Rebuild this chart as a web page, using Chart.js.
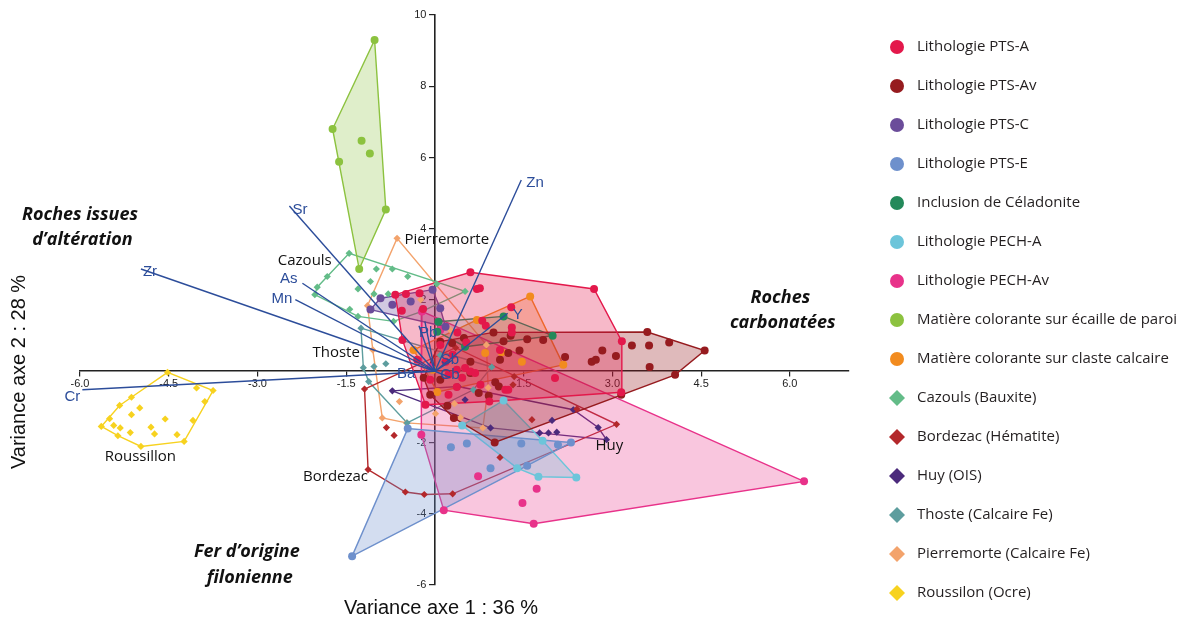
<!DOCTYPE html>
<html>
<head>
<meta charset="utf-8">
<title>ACP - lithologies et matières colorantes</title>
<script src="https://cdn.jsdelivr.net/npm/chart.js@4.4.0/dist/chart.umd.min.js"></script>
<style>
  html, body { margin: 0; padding: 0; background: #fff; }
</style>
</head>
<body>
<canvas id="acpChart" width="1183" height="622"></canvas>
<script>
// axis ticks
const xTicks = [-6, -4.5, -3, -1.5, 0, 1.5, 3, 4.5, 6];
const yTicks = [-6, -4, -2, 0, 2, 4, 6, 8, 10];

// groups, in legend order
const groupNames = [
  'Lithologie PTS-A', 'Lithologie PTS-Av', 'Lithologie PTS-C', 'Lithologie PTS-E',
  'Inclusion de Céladonite', 'Lithologie PECH-A', 'Lithologie PECH-Av',
  'Matière colorante sur écaille de paroi', 'Matière colorante sur claste calcaire',
  'Cazouls (Bauxite)', 'Bordezac (Hématite)', 'Huy (OIS)', 'Thoste (Calcaire Fe)',
  'Pierremorte (Calcaire Fe)', 'Roussilon (Ocre)'
];

// sample scores (axe 1, axe 2)
const ptsA = [[-0.67,2.15],[0.60,2.78],[2.69,2.31],[3.16,0.84],[3.15,-0.59],[-0.16,-0.94],[-0.55,0.88],
  [-0.56,1.70],[-0.49,2.17],[-0.26,2.19],[-0.20,1.75],[0.71,2.31],[0.76,2.33],[1.29,1.80],[0.80,1.42],
  [0.86,1.28],[1.30,1.23],[1.30,1.09],[0.38,1.09],[0.53,0.81],[0.51,0.09],[0.37,0.04],[0.60,-0.01],
  [0.68,-0.05],[1.19,-0.52],[1.24,-0.52],[2.03,-0.19],[0.92,-0.85],[0.37,-0.44],[0.23,-0.10],
  [0.18,0.27],[0.30,0.46],[0.46,-0.18],[0.77,-0.38],[1.10,0.60],[0.23,-0.66],[-0.08,-0.24],
  [0.09,0.74],[-0.30,0.32]];
const ptsAv = [[0.09,0.83],[3.59,1.10],[3.96,0.81],[4.56,0.58],[4.06,-0.10],[3.63,0.12],[3.62,0.72],
  [3.33,0.72],[2.83,0.58],[2.65,0.27],[2.72,0.32],[3.06,0.43],[2.20,0.40],[1.83,0.88],[1.56,0.90],
  [1.43,0.58],[1.16,0.84],[0.99,1.09],[1.28,1.00],[1.24,0.51],[1.10,0.32],[1.02,-0.31],[1.08,-0.43],
  [0.74,-0.61],[0.91,-0.69],[0.32,-1.31],[1.01,-2.00],[0.21,-0.97],[0.60,-0.05],[0.29,0.79],
  [0.49,0.93],[0.60,0.27],[3.15,-0.66],[-0.08,-0.66],[0.09,-0.24],[-0.19,-0.18]];
const ptsC = [[-1.09,1.73],[-0.92,2.05],[-0.41,1.96],[-0.04,2.29],[0.09,1.77],[0.18,1.25],[-0.72,1.87]];
const ptsE = [[-1.40,-5.19],[-0.46,-1.61],[0.27,-2.13],[0.54,-2.03],[0.94,-2.72],[1.46,-2.03],
  [2.08,-2.06],[2.30,-2.00],[1.56,-2.65]];
const ptsCeladonite = [[0.06,1.39],[1.16,1.54],[1.99,1.00],[0.51,0.69],[0.04,1.11]];
const ptsPechA = [[0.46,-1.52],[1.16,-0.82],[2.39,-2.98],[1.75,-2.96],[1.39,-2.72],[1.82,-1.95]];
const ptsPechAv = [[-0.22,1.68],[-0.23,-1.78],[0.15,-3.90],[1.67,-4.28],[6.24,-3.09],[0.73,-2.95],
  [1.72,-3.30],[1.48,-3.70],[-0.08,0.11],[0.09,1.16]];
const ptsEcaille = [[-1.02,9.30],[-1.73,6.80],[-1.62,5.88],[-1.24,6.47],[-1.10,6.11],[-0.83,4.54],[-1.28,2.87]];
const ptsClaste = [[1.61,2.10],[2.17,0.18],[0.71,1.44],[-0.36,0.60],[0.04,-0.58],[0.85,0.51],
  [1.13,0.53],[1.47,0.27],[-0.04,0.04]];
const ptsCazouls = [[-1.45,3.31],[-1.99,2.36],[-2.03,2.15],[-1.82,2.66],[-0.99,2.87],[-0.72,2.87],
  [-0.46,2.66],[-1.09,2.52],[-1.30,2.31],[-1.44,1.74],[-1.30,1.54],[-0.70,1.40],[-0.22,1.68],
  [0.51,2.24],[-1.03,2.17],[-0.79,2.17],[0.03,2.45]];
const ptsBordezac = [[-1.19,-0.50],[-1.13,-2.76],[-0.50,-3.39],[-0.18,-3.46],[0.30,-3.44],[3.07,-1.49],
  [2.40,-1.06],[0.35,0.66],[-0.82,-1.58],[-0.69,-1.80],[1.10,-2.42],[1.64,-1.36],[1.34,-0.15],[1.32,-0.38]];
const ptsHuy = [[-0.72,-0.55],[0.39,-0.43],[2.34,-1.08],[2.76,-1.58],[2.90,-1.92],[0.94,-1.59],
  [0.51,-0.80],[1.98,-1.38],[1.77,-1.73],[1.92,-1.73],[2.06,-1.71]];
const ptsThoste = [[-1.25,1.21],[-1.21,0.10],[-1.12,-0.29],[-0.47,-1.45],[0.65,-0.52],[0.96,0.12],
  [-1.03,0.13],[-0.83,0.21],[0.09,0.45]];
const ptsPierremorte = [[-0.64,3.73],[-1.14,1.84],[-1.05,0.60],[-0.89,-1.31],[-0.48,-1.45],[0.46,-1.52],
  [0.81,-1.59],[0.90,-0.46],[0.87,0.74],[-0.60,-0.85],[0.33,-0.91],[0.01,-1.19],[0.43,-1.30],
  [-0.38,0.60],[0.26,1.16],[-0.24,2.01]];
const ptsRoussillon = [[-4.52,-0.03],[-3.75,-0.54],[-3.89,-0.85],[-4.03,-0.47],[-4.09,-1.38],[-4.24,-1.97],
  [-4.97,-2.11],[-5.64,-1.55],[-5.50,-1.33],[-5.33,-0.96],[-5.13,-0.73],[-4.99,-1.03],[-5.13,-1.22],
  [-5.43,-1.52],[-5.32,-1.59],[-5.36,-1.81],[-5.15,-1.72],[-4.80,-1.57],[-4.74,-1.76],[-4.56,-1.34],
  [-4.36,-1.78]];

const groupPoints = [ptsA, ptsAv, ptsC, ptsE, ptsCeladonite, ptsPechA, ptsPechAv, ptsEcaille, ptsClaste,
  ptsCazouls, ptsBordezac, ptsHuy, ptsThoste, ptsPierremorte, ptsRoussillon];

// variable vectors (correlation circle, scaled)
const vecNames = ['Zn', 'Sr', 'Zr', 'As', 'Mn', 'Cr', 'Y', 'Pb', '', 'Sb', 'Ba', 'Cb'];
const vecX = [1.46, -2.46, -4.97, -2.24, -2.36, -5.96, 1.23, -0.27, -0.17, 0.30, -0.38, 0.26];
const vecY = [5.37, 4.64, 2.87, 2.47, 2.01, -0.52, 1.63, 1.28, 1.40, 0.32, -0.01, -0.18];

// styles
const colors = ['#E3184B', '#961B1F', '#6B4C9A', '#6E90CC', '#23895A', '#6CC5DA', '#E8328A',
  '#8CC23F', '#F28B1E', '#63BC88', '#B3282B', '#4B2A7C', '#5D9D9E', '#F3A36C', '#F7D21F'];
const shapes = ['circle', 'circle', 'circle', 'circle', 'circle', 'circle', 'circle', 'circle', 'circle',
  'rectRot', 'rectRot', 'rectRot', 'rectRot', 'rectRot', 'rectRot'];
const fillAlpha = [0.3, 0.3, 0.3, 0.3, 0.15, 0.3, 0.28, 0.28, 0.3, 0, 0, 0, 0, 0, 0];
const vecColor = '#2C4D9A';

function rgba(hex, a) {
  const n = parseInt(hex.slice(1), 16);
  return `rgba(${n >> 16}, ${(n >> 8) & 255}, ${n & 255}, ${a})`;
}

// convex hull (monotone chain), closed
function hull(pts) {
  const p = pts.slice().sort((a, b) => a[0] - b[0] || a[1] - b[1]);
  const cross = (o, a, b) => (a[0] - o[0]) * (b[1] - o[1]) - (a[1] - o[1]) * (b[0] - o[0]);
  const lower = [], upper = [];
  for (const q of p) {
    while (lower.length >= 2 && cross(lower[lower.length - 2], lower[lower.length - 1], q) <= 0) lower.pop();
    lower.push(q);
  }
  for (let i = p.length - 1; i >= 0; i--) {
    const q = p[i];
    while (upper.length >= 2 && cross(upper[upper.length - 2], upper[upper.length - 1], q) <= 0) upper.pop();
    upper.push(q);
  }
  upper.pop(); lower.pop();
  const h = lower.concat(upper);
  h.push(h[0]);
  return h;
}

const datasets = [];

// hulls underneath
groupPoints.forEach((pts, i) => {
  datasets.push({
    type: 'line',
    label: groupNames[i] + ' (enveloppe)',
    data: hull(pts).map(p => ({ x: p[0], y: p[1] })),
    borderColor: colors[i],
    borderWidth: 1.4,
    backgroundColor: rgba(colors[i], fillAlpha[i]),
    fill: fillAlpha[i] > 0 ? 'shape' : false,
    pointRadius: 0,
    tension: 0,
    order: 5
  });
});

// sample points
groupPoints.forEach((pts, i) => {
  datasets.push({
    label: groupNames[i],
    data: pts.map(p => ({ x: p[0], y: p[1] })),
    pointStyle: shapes[i],
    pointRadius: shapes[i] === 'circle' ? 4 : 3.6,
    backgroundColor: colors[i],
    borderColor: colors[i],
    borderWidth: 0,
    order: 1
  });
});

// variable vectors on top
vecNames.forEach((name, i) => {
  datasets.push({
    type: 'line',
    label: name,
    data: [{ x: 0, y: 0 }, { x: vecX[i], y: vecY[i] }],
    borderColor: vecColor,
    borderWidth: 1.4,
    pointRadius: 0,
    fill: false,
    order: 0
  });
});

// label offsets for the vectors (px from the arrow end)
const vecLabelPos = {
  Zn: [5, 3, 'left'], Sr: [3, 4, 'left'], Zr: [2, 3, 'left'], As: [-5, -4, 'right'],
  Mn: [-3, -1, 'right'], Cr: [-2, 7, 'right'], Y: [5, 2, 'left'], Pb: [0, 7, 'left'],
  Sb: [-12, 0, 'left'], Ba: [3, 2, 'right'], Cb: [-10, -3, 'left']
};

// site names and interpretation notes, in axis units
const siteLabels = [
  ['Pierremorte', 0.20, 3.69], ['Cazouls', -2.20, 3.10], ['Thoste', -1.67, 0.52],
  ['Roussillon', -4.98, -2.40], ['Bordezac', -1.68, -2.96], ['Huy', 2.95, -2.09]
];
const notes = [
  ['Roches issues', -6.0, 4.39], ['d\u2019altération', -5.96, 3.69],
  ['Roches', 5.84, 2.06], ['carbonatées', 5.88, 1.36],
  ['Fer d\u2019origine', -3.18, -5.06], ['filonienne', -3.13, -5.79]
];

const overlay = {
  id: 'overlay',
  afterDraw(chart) {
    const { ctx, scales: { x, y } } = chart;
    ctx.save();
    ctx.textBaseline = 'middle';

    // vector names
    ctx.fillStyle = vecColor;
    ctx.font = '15px Arial, "Liberation Sans", sans-serif';
    vecNames.forEach((name, i) => {
      if (!name) return;
      const o = vecLabelPos[name] || [3, 0, 'left'];
      ctx.textAlign = o[2];
      ctx.fillText(name, x.getPixelForValue(vecX[i]) + o[0], y.getPixelForValue(vecY[i]) + o[1]);
    });

    // site names
    ctx.fillStyle = '#111';
    ctx.font = '15px "Open Sans", sans-serif';
    ctx.textAlign = 'center';
    siteLabels.forEach(s => ctx.fillText(s[0], x.getPixelForValue(s[1]), y.getPixelForValue(s[2])));

    // interpretation notes
    ctx.font = 'italic bold 18px "Open Sans", sans-serif';
    notes.forEach(s => ctx.fillText(s[0], x.getPixelForValue(s[1]), y.getPixelForValue(s[2])));

    // axis titles
    ctx.font = '20px Arial, "Liberation Sans", sans-serif';
    ctx.fillStyle = '#111';
    ctx.fillText('Variance axe 1 : 36 %', 441, 608);
    ctx.save();
    ctx.translate(19, 372);
    ctx.rotate(-Math.PI / 2);
    ctx.fillText('Variance axe 2 : 28 %', 0, 0);
    ctx.restore();

    // legend
    ctx.font = '15px "Open Sans", sans-serif';
    ctx.textAlign = 'left';
    groupNames.forEach((name, i) => {
      const ly = 47 + i * 39.0;
      ctx.fillStyle = colors[i];
      ctx.beginPath();
      if (shapes[i] === 'circle') {
        ctx.arc(897, ly, 7, 0, Math.PI * 2);
      } else {
        ctx.moveTo(897, ly - 8); ctx.lineTo(905, ly); ctx.lineTo(897, ly + 8); ctx.lineTo(889, ly);
        ctx.closePath();
      }
      ctx.fill();
      ctx.fillStyle = '#231F20';
      ctx.fillText(name, 917, ly);
    });
    ctx.restore();
  }
};

new Chart(document.getElementById('acpChart'), {
  type: 'scatter',
  data: { datasets: datasets },
  options: {
    responsive: false,
    devicePixelRatio: 1,
    animation: false,
    events: [],
    layout: { padding: { left: 80, top: 15, right: 334, bottom: 37 } },
    plugins: { legend: { display: false }, tooltip: { enabled: false } },
    scales: {
      x: {
        type: 'linear', min: -6, max: 7, position: { y: 0 },
        afterBuildTicks: s => { s.ticks = xTicks.map(v => ({ value: v })); },
        afterFit: s => { s.height = 0; },
        grid: { drawOnChartArea: false, drawTicks: true, tickLength: 5, color: '#222', lineWidth: 1.2 },
        border: { display: true, color: '#222', width: 1.6 },
        ticks: {
          autoSkip: false, maxRotation: 0, padding: 1, color: '#222',
          font: { family: 'Arial', size: 11 },
          callback: v => v === 0 ? '' : v.toFixed(1)
        }
      },
      y: {
        type: 'linear', min: -6, max: 10, position: { x: 0 },
        afterBuildTicks: s => { s.ticks = yTicks.map(v => ({ value: v })); },
        afterFit: s => { s.width = 0; },
        grid: { drawOnChartArea: false, drawTicks: true, tickLength: 5, color: '#222', lineWidth: 1.2 },
        border: { display: true, color: '#222', width: 1.6 },
        ticks: {
          autoSkip: false, color: '#222',
          font: { family: 'Arial', size: 11 },
          callback: v => v === 0 ? '' : v + '\u2002 '
        }
      }
    }
  },
  plugins: [overlay]
});
</script>
</body>
</html>
